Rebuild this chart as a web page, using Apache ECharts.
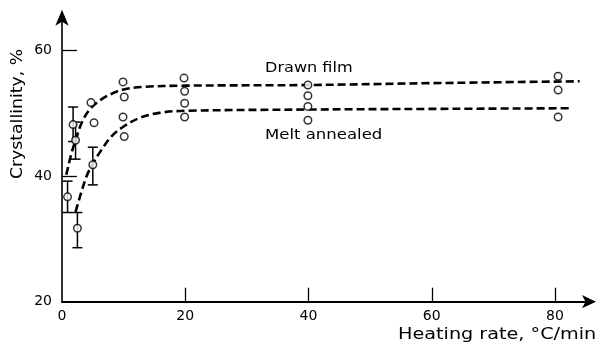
<!DOCTYPE html>
<html><head><meta charset="utf-8">
<script src="https://cdn.jsdelivr.net/npm/echarts@6/dist/echarts.min.js"></script>
<style>html,body{margin:0;padding:0;background:#fff}#c{width:599px;height:344px}</style>
</head><body><div id="c"></div>
<script>
var xTickValues = [20, 40, 60, 80];
var xLabelValues = [0, 20, 40, 60, 80];
var yTickValues = [40, 60];
var yLabelValues = [20, 40, 60];

var drawnCurve = [[0.7,40.2],[1.5,43.5],[2.2,45.7],[3.2,48.5],[4.5,50.6],[6.5,52.3],[8.5,53.3],[10,53.8],[13,54.2],[20,54.4],[40,54.5],[60,54.8],[84,55.1]];
var meltCurve = [[2.2,34.3],[3,37],[4,40],[5,42],[6.5,44.3],[8,46.3],[10,47.9],[12.7,49.3],[16,50.1],[20,50.4],[40,50.6],[60,50.7],[82.5,50.8]];
var points = [[0.9,36.7],[1.8,48.2],[2.2,45.7],[2.5,31.7],[5.0,41.8],[4.7,51.7],[5.2,48.5],[9.9,55.0],[10.1,52.6],[9.9,49.4],[10.1,46.3],[19.8,55.6],[19.9,53.5],[19.9,51.6],[19.9,49.4],[39.9,54.5],[39.9,52.8],[39.9,51.1],[39.9,48.9],[80.5,55.9],[80.5,53.7],[80.5,49.4]];
var errorBars = [[0.9,34.2,39.2],[1.8,45.5,51.0],[2.2,42.7,48.6],[2.5,28.6,34.2],[5.0,38.6,44.6]];

var font = 'DejaVu Sans';
var chart = echarts.init(document.getElementById('c'));
chart.setOption({
  animation: false,
  backgroundColor: '#fff',
  grid: {left: 62, top: 12.8, right: 7, bottom: 42.3},
  xAxis: {
    type: 'value', min: 0, max: 86,
    axisLine: {show: true, lineStyle: {color: '#000', width: 2}, symbol: ['none','arrow'], symbolSize: [10, 14], symbolOffset: [0, 4]},
    axisTick: {show: true, inside: true, length: 14, lineStyle: {color: '#000', width: 1.3}, customValues: xTickValues},
    axisLabel: {color: '#000', fontFamily: font, fontSize: 14, margin: 8, customValues: xLabelValues},
    splitLine: {show: false}
  },
  yAxis: {
    type: 'value', min: 20, max: 66,
    axisLine: {show: true, lineStyle: {color: '#000', width: 1.6}, symbol: ['none','arrow'], symbolSize: [10, 16], symbolOffset: [0, 3]},
    axisTick: {show: true, inside: true, length: 15, lineStyle: {color: '#000', width: 1.3}, customValues: yTickValues},
    axisLabel: {color: '#000', fontFamily: font, fontSize: 14, margin: 10, customValues: yLabelValues},
    splitLine: {show: false}
  },
  graphic: [
    {type: 'text', x: 398, y: 327, scaleX: 1.2, style: {text: 'Heating rate, °C/min', font: '16px "DejaVu Sans"', fill: '#000'}},
    {type: 'text', x: 18, y: 114, rotation: Math.PI/2, scaleX: 1.15, style: {text: 'Crystallinity, %', font: '15px "DejaVu Sans"', fill: '#000', align: 'center', verticalAlign: 'middle'}},
    {type: 'text', x: 265, y: 61, scaleX: 1.15, style: {text: 'Drawn film', font: '14px "DejaVu Sans"', fill: '#000'}},
    {type: 'text', x: 265, y: 128, scaleX: 1.18, style: {text: 'Melt annealed', font: '14px "DejaVu Sans"', fill: '#000'}}
  ],
  series: [
    {type: 'line', data: drawnCurve, smooth: 0.35, showSymbol: false, lineStyle: {color: '#000', width: 2.6, type: [8, 4]}},
    {type: 'line', data: meltCurve, smooth: 0.35, showSymbol: false, lineStyle: {color: '#000', width: 2.6, type: [8, 4]}},
    {type: 'custom', data: errorBars, renderItem: function (params, api) {
      var x = api.value(0);
      var lo = api.coord([x, api.value(1)]);
      var hi = api.coord([x, api.value(2)]);
      var hw = 5;
      var st = {stroke: '#000', lineWidth: 1.5};
      return {type: 'group', children: [
        {type: 'line', shape: {x1: lo[0], y1: lo[1], x2: hi[0], y2: hi[1]}, style: st},
        {type: 'line', shape: {x1: lo[0]-hw, y1: lo[1], x2: lo[0]+hw, y2: lo[1]}, style: st},
        {type: 'line', shape: {x1: hi[0]-hw, y1: hi[1], x2: hi[0]+hw, y2: hi[1]}, style: st}
      ]};
    }, z: 3},
    {type: 'scatter', data: points, symbol: 'circle', symbolSize: 7.5, itemStyle: {color: '#fff', borderColor: '#000', borderWidth: 1.5}, z: 5}
  ]
});
</script></body></html>
